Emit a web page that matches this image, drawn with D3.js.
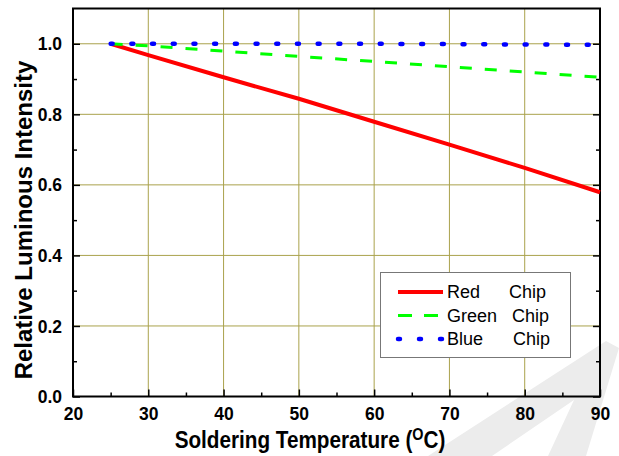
<!DOCTYPE html>
<html>
<head>
<meta charset="utf-8">
<script src="https://cdn.jsdelivr.net/npm/d3@7"></script>
<style>
  body { margin: 0; background: #fff; }
  svg { display: block; font-family: "Liberation Sans", Arial, sans-serif; }
</style>
</head>
<body>
<svg id="chart" width="619" height="456"></svg>
<script>
// values
var temps = [25, 30, 40, 50, 60, 70, 80, 90];
var redChip = [1.0, 0.968, 0.905, 0.844, 0.779, 0.714, 0.648, 0.579];
var greenChip = [1.0, 0.994, 0.979, 0.964, 0.950, 0.935, 0.920, 0.905];
var blueChip = [1.0, 1.0, 1.0, 1.0, 1.0, 0.999, 0.998, 0.997];
var seriesNames = ["Red", "Green", "Blue"];
var xTicks = [20, 30, 40, 50, 60, 70, 80, 90];
var yTicks = [0.0, 0.2, 0.4, 0.6, 0.8, 1.0];

var margin = {left: 73, right: 19, top: 8.5, bottom: 59.5};
var W = 619, H = 456;
var svg = d3.select("#chart");

// faint watermark in the corner
svg.append("polygon")
  .attr("points", "428,456 606,341 619,348 586,456 548,456 574,400 492,456")
  .attr("fill", "#ececec");

var x = d3.scaleLinear().domain([20, 90]).range([margin.left, W - margin.right]);
var y = d3.scaleLinear().domain([0, 1.1]).range([H - margin.bottom, margin.top]);

var grid = "#aaa24c";
var g = svg.append("g");

// grid
g.selectAll("line.gx").data(xTicks.slice(1, -1)).enter().append("line")
  .attr("x1", d => x(d)).attr("x2", d => x(d))
  .attr("y1", y(0)).attr("y2", y(1.1))
  .attr("stroke", grid).attr("stroke-width", 1);
g.selectAll("line.gy").data(yTicks.slice(1)).enter().append("line")
  .attr("x1", x(20)).attr("x2", x(90))
  .attr("y1", d => y(d)).attr("y2", d => y(d))
  .attr("stroke", grid).attr("stroke-width", 1);

// axes, ticks inward
var xMinor = d3.range(25, 90, 10);
var yMinor = d3.range(0.1, 1.1, 0.2);
var ax = svg.append("g").attr("transform", "translate(0," + y(0) + ")")
  .call(d3.axisBottom(x).tickValues(xTicks).tickSize(-7).tickPadding(11).tickFormat(d3.format("d")));
var axm = svg.append("g").attr("transform", "translate(0," + y(0) + ")")
  .call(d3.axisBottom(x).tickValues(xMinor).tickSize(-4).tickFormat(""));
var ay = svg.append("g").attr("transform", "translate(" + x(20) + ",0)")
  .call(d3.axisLeft(y).tickValues(yTicks).tickSize(-7).tickPadding(11).tickFormat(d3.format(".1f")));
var aym = svg.append("g").attr("transform", "translate(" + x(20) + ",0)")
  .call(d3.axisLeft(y).tickValues(yMinor).tickSize(-4).tickFormat(""));
var ar = svg.append("g").attr("transform", "translate(" + x(90) + ",0)")
  .call(d3.axisRight(y).tickValues(yTicks).tickSize(-7).tickFormat(""));
var arm = svg.append("g").attr("transform", "translate(" + x(90) + ",0)")
  .call(d3.axisRight(y).tickValues(yMinor).tickSize(-4).tickFormat(""));

[ax, axm, ay, aym, ar, arm].forEach(function(a) {
  a.select(".domain").remove();
  a.selectAll(".tick line").attr("stroke", "#000").attr("stroke-width", 1.5);
  a.selectAll(".tick text").attr("fill", "#000")
    .style("font-size", "17.5px").style("font-weight", "bold")
    .style("font-family", "'Liberation Sans', Arial, sans-serif");
});
ay.selectAll(".tick text").attr("dy", "0.35em");

// frame
svg.append("rect")
  .attr("x", x(20)).attr("y", y(1.1))
  .attr("width", x(90) - x(20)).attr("height", y(0) - y(1.1))
  .attr("fill", "none").attr("stroke", "#000").attr("stroke-width", 2);

// lines
var line = d3.line().x(d => x(d[0])).y(d => y(d[1]));
var styles = [
  {data: redChip, color: "#ff0000", width: 4, dash: null, cap: "butt"},
  {data: greenChip, color: "#00ff00", width: 3, dash: "12,13", cap: "butt"},
  {data: blueChip, color: "#0000ff", width: 4.5, dash: "2,18.7", cap: "round"}
];
styles.forEach(function(s) {
  svg.append("path")
    .datum(temps.map((t, i) => [t, s.data[i]]))
    .attr("d", line)
    .attr("fill", "none")
    .attr("stroke", s.color)
    .attr("stroke-width", s.width)
    .attr("stroke-dasharray", s.dash)
    .attr("stroke-linecap", s.cap);
});

// legend
var lg = svg.append("g");
lg.append("rect").attr("x", 380.5).attr("y", 272.5).attr("width", 190).attr("height", 85)
  .attr("fill", "#fff").attr("stroke", "#777").attr("stroke-width", 1);
var chipX = [509, 512, 513];
seriesNames.forEach(function(name, i) {
  var s = styles[i], cy = 292 + i * 23.5;
  lg.append("line").attr("x1", 398).attr("x2", 443).attr("y1", cy).attr("y2", cy)
    .attr("stroke", s.color).attr("stroke-width", s.width)
    .attr("stroke-dasharray", i == 1 ? "14,12" : (i == 2 ? "2,19" : null))
    .attr("stroke-linecap", s.cap);
  lg.append("text").attr("x", 447).attr("y", cy).attr("dy", "0.36em")
    .style("font-size", "18px").text(name);
  lg.append("text").attr("x", chipX[i]).attr("y", cy).attr("dy", "0.36em")
    .style("font-size", "18px").text("Chip");
});

// axis titles
var xt = svg.append("text")
  .attr("transform", "translate(310,448) scale(0.9,1)")
  .attr("text-anchor", "middle")
  .style("font-size", "23px").style("font-weight", "bold");
xt.append("tspan").text("Soldering Temperature (");
xt.append("tspan").attr("dy", -8).style("font-size", "16px").text("O");
xt.append("tspan").attr("dy", 8).text("C)");

svg.append("text")
  .attr("transform", "translate(32,220) rotate(-90)")
  .attr("text-anchor", "middle")
  .style("font-size", "24px").style("font-weight", "bold")
  .text("Relative Luminous Intensity");
</script>
</body>
</html>
